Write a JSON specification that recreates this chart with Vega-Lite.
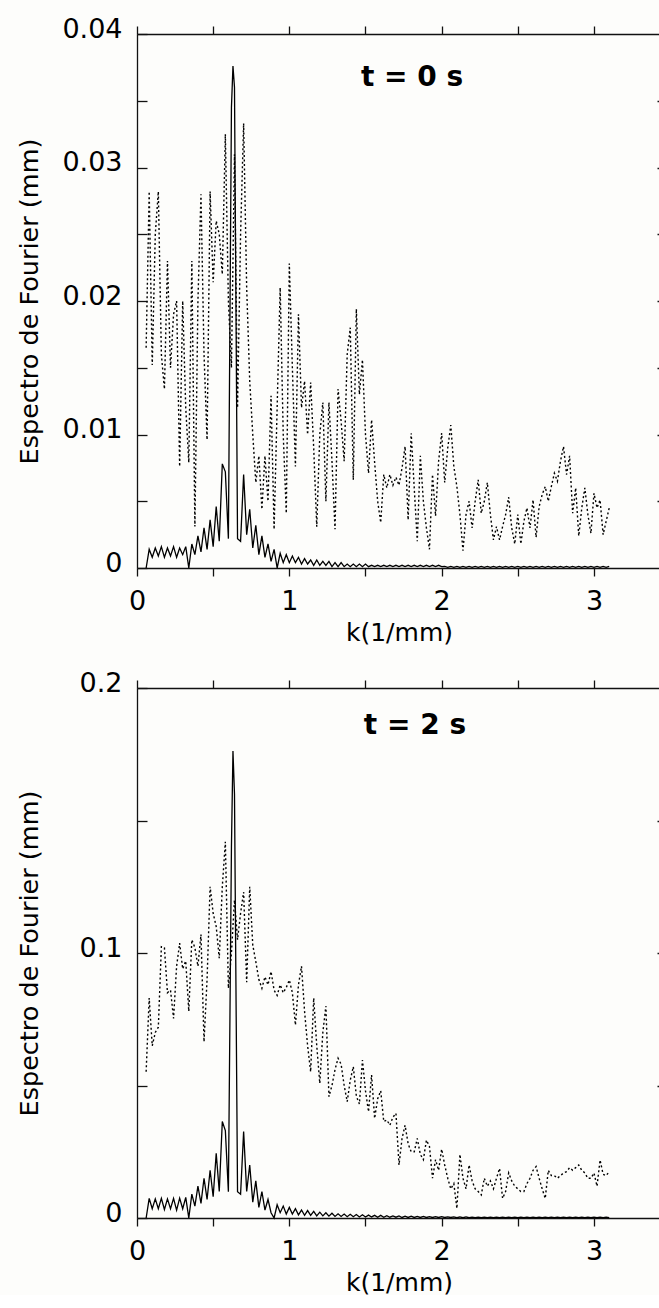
{
"$schema":"https://vega.github.io/schema/vega-lite/v6.json",
"background":"#fdfdfb",
"padding":{"left":16,"top":15,"right":0,"bottom":0},
"datasets":{
"t0":[
{"k":0.06,"a":0.0000,"b":0.0165},{"k":0.08,"a":0.0014,"b":0.0282},{"k":0.10,"a":0.0008,"b":0.0152},{"k":0.12,"a":0.0015,"b":0.0250},{"k":0.14,"a":0.0009,"b":0.0282},{"k":0.16,"a":0.0016,"b":0.0160},{"k":0.18,"a":0.0008,"b":0.0134},{"k":0.20,"a":0.0015,"b":0.0230},{"k":0.22,"a":0.0009,"b":0.0150},{"k":0.24,"a":0.0016,"b":0.0190},
{"k":0.26,"a":0.0008,"b":0.0200},{"k":0.28,"a":0.0015,"b":0.0076},{"k":0.30,"a":0.0010,"b":0.0200},{"k":0.32,"a":0.0016,"b":0.0120},{"k":0.34,"a":0.0000,"b":0.0079},{"k":0.36,"a":0.0018,"b":0.0230},{"k":0.38,"a":0.0010,"b":0.0031},{"k":0.40,"a":0.0024,"b":0.0200},{"k":0.42,"a":0.0012,"b":0.0280},{"k":0.44,"a":0.0030,"b":0.0160},
{"k":0.46,"a":0.0014,"b":0.0096},{"k":0.48,"a":0.0036,"b":0.0282},{"k":0.50,"a":0.0016,"b":0.0214},{"k":0.52,"a":0.0046,"b":0.0260},{"k":0.54,"a":0.0020,"b":0.0250},{"k":0.56,"a":0.0078,"b":0.0220},{"k":0.58,"a":0.0072,"b":0.0325},{"k":0.60,"a":0.0022,"b":0.0200},{"k":0.62,"a":0.0345,"b":0.0150},{"k":0.63,"a":0.0376,"b":0.0230},
{"k":0.64,"a":0.0360,"b":0.0310},{"k":0.66,"a":0.0022,"b":0.0120},{"k":0.68,"a":0.0020,"b":0.0250},{"k":0.70,"a":0.0070,"b":0.0333},{"k":0.72,"a":0.0025,"b":0.0210},{"k":0.74,"a":0.0044,"b":0.0140},{"k":0.76,"a":0.0015,"b":0.0100},{"k":0.78,"a":0.0032,"b":0.0064},{"k":0.80,"a":0.0010,"b":0.0084},{"k":0.82,"a":0.0024,"b":0.0044},
{"k":0.84,"a":0.0008,"b":0.0084},{"k":0.86,"a":0.0018,"b":0.0050},{"k":0.88,"a":0.0005,"b":0.0129},{"k":0.90,"a":0.0014,"b":0.0029},{"k":0.92,"a":0.0000,"b":0.0120},{"k":0.94,"a":0.0011,"b":0.0210},{"k":0.96,"a":0.0004,"b":0.0100},{"k":0.98,"a":0.0010,"b":0.0041},{"k":1.00,"a":0.0004,"b":0.0228},{"k":1.02,"a":0.0009,"b":0.0150},
{"k":1.04,"a":0.0004,"b":0.0076},{"k":1.06,"a":0.0008,"b":0.0190},{"k":1.08,"a":0.0003,"b":0.0120},{"k":1.10,"a":0.0007,"b":0.0140},{"k":1.12,"a":0.0003,"b":0.0100},{"k":1.14,"a":0.0006,"b":0.0139},{"k":1.16,"a":0.0002,"b":0.0090},{"k":1.18,"a":0.0006,"b":0.0031},{"k":1.20,"a":0.0002,"b":0.0100},{"k":1.22,"a":0.0005,"b":0.0124},
{"k":1.24,"a":0.0002,"b":0.0050},{"k":1.26,"a":0.0005,"b":0.0124},{"k":1.28,"a":0.0001,"b":0.0080},{"k":1.30,"a":0.0004,"b":0.0029},{"k":1.32,"a":0.0001,"b":0.0134},{"k":1.34,"a":0.0004,"b":0.0110},{"k":1.36,"a":0.0001,"b":0.0080},{"k":1.38,"a":0.0003,"b":0.0160},{"k":1.40,"a":0.0001,"b":0.0180},{"k":1.42,"a":0.0003,"b":0.0066},
{"k":1.44,"a":0.0001,"b":0.0194},{"k":1.46,"a":0.0003,"b":0.0130},{"k":1.48,"a":0.0001,"b":0.0156},{"k":1.50,"a":0.0003,"b":0.0100},{"k":1.52,"a":0.0001,"b":0.0071},{"k":1.54,"a":0.0002,"b":0.0111},{"k":1.56,"a":0.0001,"b":0.0079},{"k":1.58,"a":0.0002,"b":0.0050},{"k":1.60,"a":0.0001,"b":0.0034},{"k":1.62,"a":0.0002,"b":0.0070},
{"k":1.64,"a":0.0001,"b":0.0060},{"k":1.66,"a":0.0002,"b":0.0070},{"k":1.68,"a":0.0001,"b":0.0062},{"k":1.70,"a":0.0002,"b":0.0068},{"k":1.72,"a":0.0001,"b":0.0062},{"k":1.74,"a":0.0002,"b":0.0075},{"k":1.76,"a":0.0001,"b":0.0091},{"k":1.78,"a":0.0002,"b":0.0036},{"k":1.80,"a":0.0001,"b":0.0101},{"k":1.82,"a":0.0002,"b":0.0060},
{"k":1.84,"a":0.0001,"b":0.0020},{"k":1.86,"a":0.0002,"b":0.0084},{"k":1.88,"a":0.0001,"b":0.0050},{"k":1.90,"a":0.0002,"b":0.0030},{"k":1.92,"a":0.0001,"b":0.0014},{"k":1.94,"a":0.0002,"b":0.0070},{"k":1.96,"a":0.0001,"b":0.0039},{"k":1.98,"a":0.0002,"b":0.0080},{"k":2.00,"a":0.0001,"b":0.0101},{"k":2.02,"a":0.00012,"b":0.0064},
{"k":2.04,"a":0.00005,"b":0.0090},{"k":2.06,"a":0.00012,"b":0.0107},{"k":2.08,"a":0.00005,"b":0.0076},{"k":2.10,"a":0.00012,"b":0.0061},{"k":2.12,"a":0.00005,"b":0.0040},{"k":2.14,"a":0.00012,"b":0.0013},{"k":2.16,"a":0.00005,"b":0.0040},{"k":2.18,"a":0.00012,"b":0.0050},{"k":2.20,"a":0.00005,"b":0.0030},{"k":2.22,"a":0.00012,"b":0.0050},
{"k":2.24,"a":0.00005,"b":0.0066},{"k":2.26,"a":0.00012,"b":0.0041},{"k":2.28,"a":0.00005,"b":0.0050},{"k":2.30,"a":0.00012,"b":0.0064},{"k":2.32,"a":0.00005,"b":0.0040},{"k":2.34,"a":0.00012,"b":0.0021},{"k":2.36,"a":0.00005,"b":0.0031},{"k":2.38,"a":0.00012,"b":0.0021},{"k":2.40,"a":0.00005,"b":0.0031},{"k":2.42,"a":0.00012,"b":0.0040},
{"k":2.44,"a":0.00005,"b":0.0053},{"k":2.46,"a":0.00012,"b":0.0030},{"k":2.48,"a":0.00005,"b":0.0018},{"k":2.50,"a":0.00012,"b":0.0040},{"k":2.52,"a":0.00005,"b":0.0018},{"k":2.54,"a":0.00012,"b":0.0035},{"k":2.56,"a":0.00005,"b":0.0045},{"k":2.58,"a":0.00012,"b":0.0030},{"k":2.60,"a":0.00005,"b":0.0051},{"k":2.62,"a":0.00012,"b":0.0023},
{"k":2.64,"a":0.00005,"b":0.0046},{"k":2.66,"a":0.00012,"b":0.0055},{"k":2.68,"a":0.00005,"b":0.0061},{"k":2.70,"a":0.00012,"b":0.0050},{"k":2.72,"a":0.00005,"b":0.0061},{"k":2.74,"a":0.00012,"b":0.0071},{"k":2.76,"a":0.00005,"b":0.0065},{"k":2.78,"a":0.00012,"b":0.0080},{"k":2.80,"a":0.00005,"b":0.0091},{"k":2.82,"a":0.00012,"b":0.0070},
{"k":2.84,"a":0.00005,"b":0.0084},{"k":2.86,"a":0.00012,"b":0.0041},{"k":2.88,"a":0.00005,"b":0.0060},{"k":2.90,"a":0.00012,"b":0.0024},{"k":2.92,"a":0.00005,"b":0.0045},{"k":2.94,"a":0.00012,"b":0.0060},{"k":2.96,"a":0.00005,"b":0.0040},{"k":2.98,"a":0.00012,"b":0.0026},{"k":3.00,"a":0.00005,"b":0.0056},{"k":3.02,"a":0.00012,"b":0.0045},
{"k":3.04,"a":0.00005,"b":0.0051},{"k":3.06,"a":0.00012,"b":0.0025},{"k":3.08,"a":0.00005,"b":0.0035},{"k":3.10,"a":0.00012,"b":0.0045}
],
"t2":[
{"k":0.06,"a":0.0000,"b":0.0552},{"k":0.08,"a":0.0074,"b":0.0830},{"k":0.10,"a":0.0035,"b":0.0650},{"k":0.12,"a":0.0072,"b":0.0700},{"k":0.14,"a":0.0035,"b":0.0720},{"k":0.16,"a":0.0074,"b":0.1024},{"k":0.18,"a":0.0032,"b":0.1020},{"k":0.20,"a":0.0072,"b":0.0850},{"k":0.22,"a":0.0035,"b":0.0860},{"k":0.24,"a":0.0074,"b":0.0753},
{"k":0.26,"a":0.0030,"b":0.0950},{"k":0.28,"a":0.0075,"b":0.1037},{"k":0.30,"a":0.0035,"b":0.0940},{"k":0.32,"a":0.0078,"b":0.0970},{"k":0.34,"a":0.0000,"b":0.0780},{"k":0.36,"a":0.0090,"b":0.1050},{"k":0.38,"a":0.0045,"b":0.1020},{"k":0.40,"a":0.0120,"b":0.0950},{"k":0.42,"a":0.0055,"b":0.1070},{"k":0.44,"a":0.0150,"b":0.0665},
{"k":0.46,"a":0.0070,"b":0.0900},{"k":0.48,"a":0.0180,"b":0.1250},{"k":0.50,"a":0.0080,"b":0.1150},{"k":0.52,"a":0.0244,"b":0.1100},{"k":0.54,"a":0.0100,"b":0.0980},{"k":0.56,"a":0.0364,"b":0.1250},{"k":0.58,"a":0.0330,"b":0.1420},{"k":0.60,"a":0.0099,"b":0.0867},{"k":0.62,"a":0.1400,"b":0.1000},{"k":0.63,"a":0.1762,"b":0.1100},
{"k":0.64,"a":0.1600,"b":0.1200},{"k":0.66,"a":0.0099,"b":0.1050},{"k":0.68,"a":0.0090,"b":0.1150},{"k":0.70,"a":0.0326,"b":0.1230},{"k":0.72,"a":0.0100,"b":0.0890},{"k":0.74,"a":0.0200,"b":0.1250},{"k":0.76,"a":0.0060,"b":0.1030},{"k":0.78,"a":0.0140,"b":0.0967},{"k":0.80,"a":0.0040,"b":0.0900},{"k":0.82,"a":0.0100,"b":0.0867},
{"k":0.84,"a":0.0030,"b":0.0910},{"k":0.86,"a":0.0070,"b":0.0880},{"k":0.88,"a":0.0020,"b":0.0930},{"k":0.90,"a":0.0000,"b":0.0860},{"k":0.92,"a":0.0050,"b":0.0840},{"k":0.94,"a":0.0020,"b":0.0880},{"k":0.96,"a":0.0045,"b":0.0850},{"k":0.98,"a":0.0015,"b":0.0870},{"k":1.00,"a":0.0040,"b":0.0898},{"k":1.02,"a":0.0015,"b":0.0850},
{"k":1.04,"a":0.0035,"b":0.0728},{"k":1.06,"a":0.0012,"b":0.0880},{"k":1.08,"a":0.0030,"b":0.0950},{"k":1.10,"a":0.0010,"b":0.0780},{"k":1.12,"a":0.0028,"b":0.0650},{"k":1.14,"a":0.0010,"b":0.0552},{"k":1.16,"a":0.0025,"b":0.0830},{"k":1.18,"a":0.0008,"b":0.0650},{"k":1.20,"a":0.0022,"b":0.0508},{"k":1.22,"a":0.0008,"b":0.0700},
{"k":1.24,"a":0.0020,"b":0.0800},{"k":1.26,"a":0.0007,"b":0.0458},{"k":1.28,"a":0.0018,"b":0.0500},{"k":1.30,"a":0.0006,"b":0.0560},{"k":1.32,"a":0.0016,"b":0.0603},{"k":1.34,"a":0.0006,"b":0.0580},{"k":1.36,"a":0.0015,"b":0.0500},{"k":1.38,"a":0.0005,"b":0.0439},{"k":1.40,"a":0.0014,"b":0.0520},{"k":1.42,"a":0.0005,"b":0.0571},
{"k":1.44,"a":0.0013,"b":0.0460},{"k":1.46,"a":0.0004,"b":0.0430},{"k":1.48,"a":0.0012,"b":0.0596},{"k":1.50,"a":0.0004,"b":0.0480},{"k":1.52,"a":0.0011,"b":0.0401},{"k":1.54,"a":0.0004,"b":0.0540},{"k":1.56,"a":0.0010,"b":0.0376},{"k":1.58,"a":0.0003,"b":0.0450},{"k":1.60,"a":0.0010,"b":0.0480},{"k":1.62,"a":0.0003,"b":0.0364},
{"k":1.64,"a":0.0009,"b":0.0370},{"k":1.66,"a":0.0003,"b":0.0350},{"k":1.68,"a":0.0008,"b":0.0380},{"k":1.70,"a":0.0003,"b":0.0395},{"k":1.72,"a":0.0008,"b":0.0200},{"k":1.74,"a":0.0002,"b":0.0300},{"k":1.76,"a":0.0007,"b":0.0350},{"k":1.78,"a":0.0002,"b":0.0280},{"k":1.80,"a":0.0007,"b":0.0250},{"k":1.82,"a":0.0002,"b":0.0250},
{"k":1.84,"a":0.0006,"b":0.0300},{"k":1.86,"a":0.0002,"b":0.0240},{"k":1.88,"a":0.0006,"b":0.0220},{"k":1.90,"a":0.0002,"b":0.0294},{"k":1.92,"a":0.0005,"b":0.0270},{"k":1.94,"a":0.0002,"b":0.0150},{"k":1.96,"a":0.0005,"b":0.0220},{"k":1.98,"a":0.0002,"b":0.0180},{"k":2.00,"a":0.0005,"b":0.0260},{"k":2.02,"a":0.0002,"b":0.0200},
{"k":2.04,"a":0.0004,"b":0.0150},{"k":2.06,"a":0.0002,"b":0.0110},{"k":2.08,"a":0.0004,"b":0.0130},{"k":2.10,"a":0.0001,"b":0.0036},{"k":2.12,"a":0.0004,"b":0.0240},{"k":2.14,"a":0.0001,"b":0.0150},{"k":2.16,"a":0.0004,"b":0.0110},{"k":2.18,"a":0.0001,"b":0.0200},{"k":2.20,"a":0.0003,"b":0.0140},{"k":2.22,"a":0.0001,"b":0.0110},
{"k":2.24,"a":0.0003,"b":0.0100},{"k":2.26,"a":0.0001,"b":0.0087},{"k":2.28,"a":0.0003,"b":0.0150},{"k":2.30,"a":0.0001,"b":0.0120},{"k":2.32,"a":0.0003,"b":0.0140},{"k":2.34,"a":0.0001,"b":0.0110},{"k":2.36,"a":0.0003,"b":0.0150},{"k":2.38,"a":0.0001,"b":0.0187},{"k":2.40,"a":0.0003,"b":0.0074},{"k":2.42,"a":0.0001,"b":0.0100},
{"k":2.44,"a":0.0003,"b":0.0170},{"k":2.46,"a":0.0001,"b":0.0140},{"k":2.48,"a":0.0003,"b":0.0120},{"k":2.50,"a":0.0001,"b":0.0110},{"k":2.52,"a":0.0003,"b":0.0100},{"k":2.54,"a":0.0001,"b":0.0100},{"k":2.56,"a":0.0003,"b":0.0130},{"k":2.58,"a":0.0001,"b":0.0150},{"k":2.60,"a":0.0003,"b":0.0180},{"k":2.62,"a":0.0001,"b":0.0194},
{"k":2.64,"a":0.0003,"b":0.0150},{"k":2.66,"a":0.0001,"b":0.0110},{"k":2.68,"a":0.0003,"b":0.0074},{"k":2.70,"a":0.0001,"b":0.0180},{"k":2.72,"a":0.0003,"b":0.0160},{"k":2.74,"a":0.0001,"b":0.0160},{"k":2.76,"a":0.0003,"b":0.0150},{"k":2.78,"a":0.0001,"b":0.0160},{"k":2.80,"a":0.0003,"b":0.0170},{"k":2.82,"a":0.0001,"b":0.0175},
{"k":2.84,"a":0.0003,"b":0.0190},{"k":2.86,"a":0.0001,"b":0.0180},{"k":2.88,"a":0.0003,"b":0.0190},{"k":2.90,"a":0.0001,"b":0.0200},{"k":2.92,"a":0.0003,"b":0.0180},{"k":2.94,"a":0.0001,"b":0.0170},{"k":2.96,"a":0.0003,"b":0.0150},{"k":2.98,"a":0.0001,"b":0.0150},{"k":3.00,"a":0.0003,"b":0.0170},{"k":3.02,"a":0.0001,"b":0.0120},
{"k":3.04,"a":0.0003,"b":0.0219},{"k":3.06,"a":0.0001,"b":0.0165},{"k":3.08,"a":0.0003,"b":0.0160},{"k":3.10,"a":0.0001,"b":0.0175}
]
},
"spacing":24,
"vconcat":[
{
"width":524,"height":534,
"data":{"name":"t0"},
"layer":[
{"mark":{"type":"line","color":"#000","strokeWidth":1.3},
 "encoding":{
  "x":{"field":"k","type":"quantitative","scale":{"domain":[0,3.44],"nice":false,"zero":false},
   "axis":{"orient":"bottom","values":[0,0.5,1,1.5,2,2.5,3],"labelExpr":"datum.value % 1 == 0 ? format(datum.value, 'd') : ''","tickSize":8,"labelPadding":12,"labelFontSize":27,"labelFlush":false,"labelOverlap":false,"title":"k(1/mm)","titleFontSize":25,"titlePadding":6}},
  "y":{"field":"a","type":"quantitative","scale":{"domain":[0,0.04],"nice":false},
   "axis":{"orient":"left","values":[0,0.005,0.01,0.015,0.02,0.025,0.03,0.035,0.04],"labelExpr":"datum.value == 0 ? '0' : (abs(datum.value*100 - round(datum.value*100)) < 0.000001 ? format(datum.value, '.2f') : '')","tickSize":-10,"labelPadding":25,"labelOffset":-5,"labelFontSize":27,"labelFlush":false,"labelOverlap":false,"title":"Espectro de Fourier (mm)","titleFontSize":25.5,"titleX":-95}}
 }},
{"mark":{"type":"line","color":"#000","strokeWidth":1.4,"strokeDash":[2,2.5]},
 "encoding":{
  "x":{"field":"k","type":"quantitative","axis":{"orient":"top","values":[0,0.5,1,1.5,2,2.5,3],"labels":false,"tickSize":8,"title":null}},
  "y":{"field":"b","type":"quantitative","axis":{"orient":"right","values":[0.005,0.01,0.015,0.02,0.025,0.03,0.035],"labels":false,"domain":false,"tickSize":-4,"title":null}}
 }},
{"data":{"values":[{"k":1.806,"v":0.0367,"t":"t = 0 s"}]},
 "mark":{"type":"text","font":"DejaVu Sans","fontWeight":"bold","fontSize":28,"color":"#000","align":"center","baseline":"middle"},
 "encoding":{"x":{"field":"k","type":"quantitative","axis":null},"y":{"field":"v","type":"quantitative","axis":null},"text":{"field":"t"}}}
],
"resolve":{"axis":{"x":"independent","y":"independent"}}
},
{
"width":524,"height":530,
"data":{"name":"t2"},
"layer":[
{"mark":{"type":"line","color":"#000","strokeWidth":1.3},
 "encoding":{
  "x":{"field":"k","type":"quantitative","scale":{"domain":[0,3.44],"nice":false,"zero":false},
   "axis":{"orient":"bottom","values":[0,0.5,1,1.5,2,2.5,3],"labelExpr":"datum.value % 1 == 0 ? format(datum.value, 'd') : ''","tickSize":8,"labelPadding":12,"labelFontSize":27,"labelFlush":false,"labelOverlap":false,"title":"k(1/mm)","titleFontSize":25,"titlePadding":6}},
  "y":{"field":"a","type":"quantitative","scale":{"domain":[0,0.2],"nice":false},
   "axis":{"orient":"left","values":[0,0.05,0.1,0.15,0.2],"labelExpr":"datum.value == 0 ? '0' : (abs(datum.value*10 - round(datum.value*10)) < 0.000001 ? format(datum.value, '.1f') : '')","tickSize":-10,"labelPadding":25,"labelOffset":-5,"labelFontSize":27,"labelFlush":false,"labelOverlap":false,"title":"Espectro de Fourier (mm)","titleFontSize":25.5,"titleX":-95}}
 }},
{"mark":{"type":"line","color":"#000","strokeWidth":1.4,"strokeDash":[2,2.5]},
 "encoding":{
  "x":{"field":"k","type":"quantitative","axis":{"orient":"top","values":[0,0.5,1,1.5,2,2.5,3],"labels":false,"tickSize":8,"title":null}},
  "y":{"field":"b","type":"quantitative","axis":{"orient":"right","values":[0.05,0.1,0.15],"labels":false,"domain":false,"tickSize":-4,"title":null}}
 }},
{"data":{"values":[{"k":1.825,"v":0.1857,"t":"t = 2 s"}]},
 "mark":{"type":"text","font":"DejaVu Sans","fontWeight":"bold","fontSize":28,"color":"#000","align":"center","baseline":"middle"},
 "encoding":{"x":{"field":"k","type":"quantitative","axis":null},"y":{"field":"v","type":"quantitative","axis":null},"text":{"field":"t"}}}
],
"resolve":{"axis":{"x":"independent","y":"independent"}}
}
],
"config":{
 "view":{"stroke":null},
 "axis":{"grid":false,"domainColor":"#111","tickColor":"#111","domainWidth":1.3,"tickWidth":1.3,"labelColor":"#000","titleColor":"#000","labelFont":"DejaVu Sans","titleFont":"DejaVu Sans","titleFontWeight":"normal"}
}
}
